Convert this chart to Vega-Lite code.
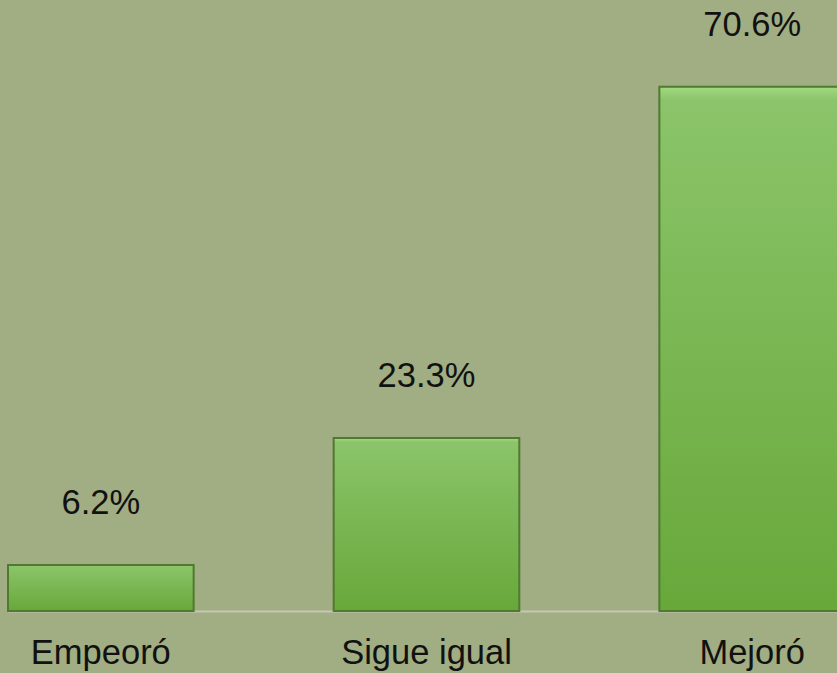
{
  "$schema": "https://vega.github.io/schema/vega-lite/v6.json",
  "width": 837,
  "height": 611,
  "autosize": {"type": "none"},
  "padding": {"left": 0, "top": 0, "right": 0, "bottom": 62},
  "background": "#a1ad82",
  "config": {"view": {"stroke": null}, "font": "Liberation Sans"},
  "data": {"values": [
    {"cat": "Empeoró", "v": 0.062},
    {"cat": "Sigue igual", "v": 0.233},
    {"cat": "Mejoró", "v": 0.706}
  ]},
  "encoding": {
    "x": {"field": "cat", "type": "nominal", "sort": null,
      "scale": {"range": [8, 845], "paddingInner": 0.43, "paddingOuter": 0},
      "axis": {"title": null, "labelAngle": 0, "ticks": false, "labelPadding": 25, "labelFontSize": 34.5, "labelColor": "#111111", "domainColor": "#c4c8b4", "domainWidth": 2, "labelFont": "Liberation Sans"}},
    "y": {"field": "v", "type": "quantitative",
      "scale": {"domain": [0, 0.823], "nice": false},
      "axis": null}
  },
  "layer": [
    {"mark": {"type": "bar", "stroke": "#4f7a30", "strokeWidth": 2,
      "color": {"gradient": "linear", "x1": 0, "y1": 0, "x2": 0, "y2": 1,
        "stops": [{"offset": 0, "color": "#a2da80"}, {"offset": 0.025, "color": "#8bc46a"}, {"offset": 1, "color": "#68a83a"}]}}},
    {"mark": {"type": "text", "baseline": "alphabetic", "dy": -51, "fontSize": 34.5, "color": "#111111", "font": "Liberation Sans"},
      "encoding": {"text": {"field": "v", "type": "quantitative", "format": ".1%"}}}
  ]
}
